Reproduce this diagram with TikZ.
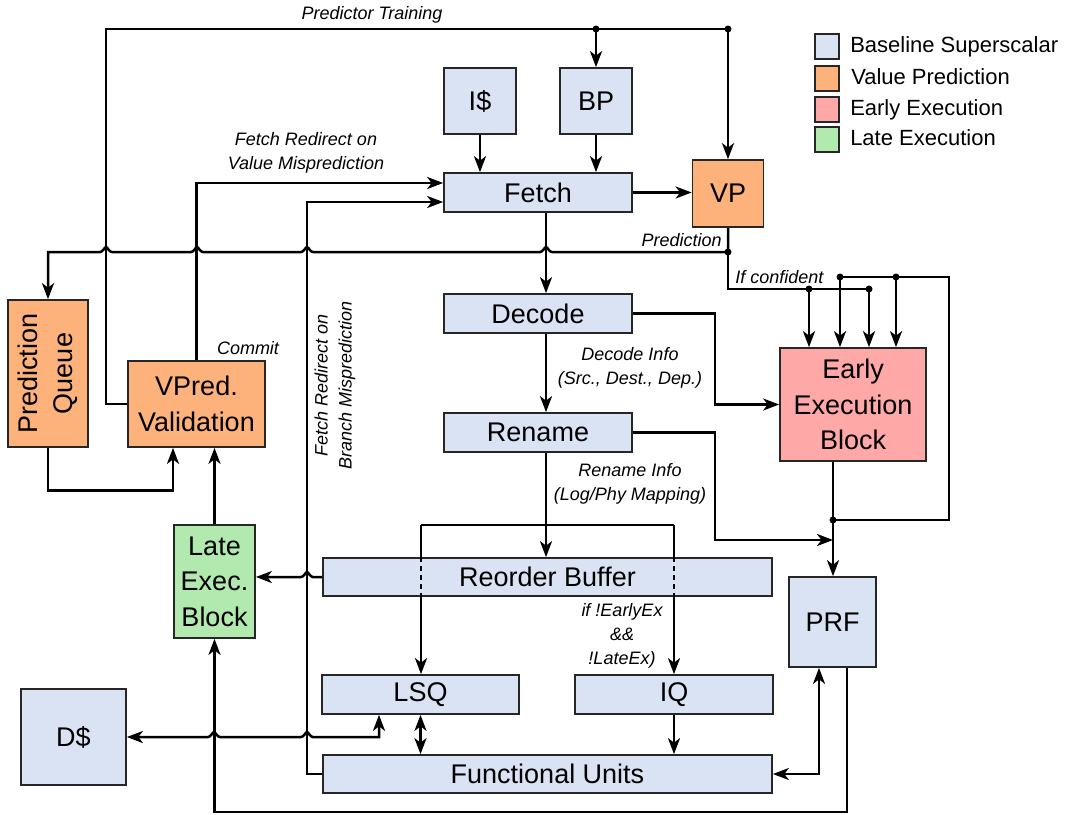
\documentclass[tikz,border=0pt]{standalone}
\usepackage{fontspec}
\setmainfont{Liberation Sans}
\usepackage{tikz}
\usetikzlibrary{arrows.meta,positioning}
\tikzset{>/.tip={Stealth[length=16pt,width=12pt,inset=4.5pt]}}
\definecolor{baseblue}{RGB}{218,227,243}
\definecolor{vporange}{RGB}{252,178,122}
\definecolor{eepink}{RGB}{254,168,168}
\definecolor{legreen}{RGB}{178,233,174}
\def\boxfont{\fontsize{27}{35.5}\selectfont}
\def\lblfont{\fontsize{18}{24}\selectfont\itshape}
\def\legfont{\fontsize{22}{25}\selectfont}
% little bridge where a line crosses another one
\def\hop#1#2{-- (#1-6,#2) .. controls (#1-3,#2) and (#1-1.5,#2-5) .. (#1,#2-5) .. controls (#1+1.5,#2-5) and (#1+3,#2) .. (#1+6,#2)}

\begin{document}
\begin{tikzpicture}[x=1pt,y=-1pt,on grid,line width=2.5pt,
  blk/.style={draw=black!85,line width=1.7pt,font=\boxfont,align=center,inner sep=0pt},
  basebox/.style={blk,fill=baseblue},
  vpbox/.style={blk,fill=vporange},
  eebox/.style={blk,fill=eepink},
  lebox/.style={blk,fill=legreen},
  bar/.style={minimum width=188pt,minimum height=39pt},
  sq/.style={minimum width=72pt,minimum height=66pt},
  lbl/.style={font=\lblfont,align=center,inner sep=0pt},
  legsq/.style={minimum width=24pt,minimum height=25pt},
  legtxt/.style={font=\legfont,anchor=west,inner sep=0pt,text height=15.5pt,text depth=0pt}]
  \useasboundingbox (0,0) rectangle (1067,814);

  % blocks
  \node[basebox,sq](icache) at (480,101) {I\$};
  \node[basebox,sq](bp)[right=116pt of icache]{BP};
  \node[basebox,bar](fetch) at (538,192.5) {Fetch};
  \node[basebox,bar](decode)[below=121pt of fetch]{Decode};
  \node[basebox,bar](rename)[below=119pt of decode]{Rename};
  \node[vpbox,minimum width=71pt,minimum height=67pt](vp) at (728,193.5) {VP};
  \node[eebox,minimum width=146pt,minimum height=113pt](eeb) at (853,404.5) {Early\\Execution\\Block};
  \node[vpbox,minimum width=80pt,minimum height=147pt](pq) at (48,373.5) {};
  \node[rotate=90,font=\boxfont,align=center](pqtxt) at (pq) {Prediction\\Queue};
  \node[vpbox,minimum width=137pt,minimum height=86pt](vpv) at (196.5,404) {VPred.\\Validation};
  \node[lebox,minimum width=81pt,minimum height=113pt](late) at (214.5,581.5) {Late\\Exec.\\Block};
  \node[basebox,minimum width=449pt,minimum height=38pt](rob) at (547.5,577) {Reorder Buffer};
  \node[basebox,minimum width=87pt,minimum height=90pt](prf) at (832.5,622) {PRF};
  \node[basebox,minimum width=105pt,minimum height=96pt](dc) at (73.5,737) {D\$};
  \node[basebox,minimum width=197pt,minimum height=39pt](lsq) at (420.5,694.5) {LSQ};
  \node[basebox,minimum width=198pt,minimum height=39pt](iq)[right=253.5pt of lsq]{IQ};
  \node[basebox,minimum width=449pt,minimum height=38pt](fu) at (547.5,774) {Functional Units};

  % junctions
  \coordinate (pt) at (728,29);
  \coordinate (pb) at (596,29);
  \coordinate (pdot) at (728,252);
  \coordinate (c1) at (809,289);
  \coordinate (c4) at (869,289);
  \coordinate (c2) at (840,277);
  \coordinate (c3) at (896,277);
  \coordinate (edot) at (833,520);
  \coordinate (rin) at (833,540);
  \coordinate (tl) at (421,525);
  \coordinate (tr) at (674,525);

  % front end
  \draw[->] (icache) -- (icache |- fetch.north);
  \draw[->] (bp) -- (bp |- fetch.north);
  \draw[->] (fetch.east) -- (vp.west |- fetch.east);
  \draw[->] ([xshift=8pt]fetch.south) -- ([xshift=8pt]decode.north);
  \draw[->] ([xshift=8pt]decode.south) -- ([xshift=8pt]rename.north);
  \draw[->] ([xshift=8pt]rename.south) -- ([xshift=8pt]rename.south |- rob.north);
  \draw[->] (decode.east) -| (715,360) |- (eeb.west);
  \draw[->] (rename.east) -| (715,500) |- (rin);

  % value prediction
  \draw[->] (vpv.west) -| (106,29) -- (pt) -- (vp.north);
  \draw[->] (pb) -- (bp);
  \draw[->] (vpv.north) |- ([yshift=9.5pt]fetch.west);
  \draw[->] (fu.west) -| (307,202) -- ([yshift=-9.5pt]fetch.west);
  \draw[<-] (pq.north) -- (pq.north |- pdot) \hop{106}{252} \hop{197}{252} \hop{307}{252} \hop{546}{252} -- (pdot) -- (vp.south);
  \draw[->] (pq.south) -- ++(0,42.5) -| ([xshift=-23.5pt]vpv.south);
  \draw[->] (late.north) -- (late.north |- vpv.south);

  % early execution
  \draw (pdot) |- (c4);
  \draw[->] (c1) -- (c1 |- eeb.north);
  \draw[->] (c4) -- (c4 |- eeb.north);
  \draw[->] (c2) -- (c2 |- eeb.north);
  \draw[->] (c3) -- (c3 |- eeb.north);
  \draw (edot) -| (949,277) -- (c2);
  \draw[->] (eeb.south -| edot) -- (prf.north -| edot);

  % back end
  \draw (tl) -- (tr);
  \draw (tl) -- (tl |- rob.north);
  \draw[dash pattern=on 5pt off 4pt] (tl |- rob.north) -- (tl |- rob.south);
  \draw[->] (tl |- rob.south) -- (tl |- lsq.north);
  \draw (tr) -- (tr |- rob.north);
  \draw[dash pattern=on 5pt off 4pt] (tr |- rob.north) -- (tr |- rob.south);
  \draw[->] (tr |- rob.south) -- (tr |- iq.north);
  \draw[<-] (late.east |- rob.west) \hop{307}{577} -- (rob.west);
  \draw[<->] (dc.east) \hop{214}{737} \hop{307}{737} -| ([xshift=-41.5pt]lsq.south);
  \draw[<->] (lsq.south) -- (lsq.south |- fu.north);
  \draw[->] (iq.south) -- (iq.south |- fu.north);
  \draw[<->] (fu.east) -| ([xshift=-13.5pt]prf.south);
  \draw[->] ([xshift=14.5pt]prf.south) -- ++(0,144) -| (late.south);

  \foreach \p in {pt,pb,pdot,c1,c2,c3,c4,edot} \fill (\p) circle (3.5pt);

  % labels
  \node[lbl](trainlbl) at (372,15) {Predictor Training};
  \node[lbl](vmislbl) at (306,153) {Fetch Redirect on\\Value Misprediction};
  \node[lbl,rotate=90](bmislbl) at (335,385) {Fetch Redirect on\\Branch Misprediction};
  \node[lbl,anchor=east](predlbl) at (723,240) {Prediction};
  \node[lbl,anchor=west](conflbl) at (734,277) {If confident};
  \node[lbl](commitlbl) at (248,348) {Commit};
  \node[lbl](declbl) at (630,368) {Decode Info\\(Src., Dest., Dep.)};
  \node[lbl](renlbl) at (630,484) {Rename Info\\(Log/Phy Mapping)};
  \node[lbl](bypasslbl) at (622,636) {if !EarlyEx\\\&\&\\!LateEx)};

  % legend
  \node[basebox,legsq](lgbase) at (827,46.5) {};
  \node[vpbox,legsq](lgvp) at (827,78.5) {};
  \node[eebox,legsq](lgee) at (827,109.5) {};
  \node[lebox,legsq](lgle) at (827,139.5) {};
  \node[legtxt](ltbase) at (849,45) {Baseline Superscalar};
  \node[legtxt](ltvp) at (850,77) {Value Prediction};
  \node[legtxt](ltee) at (849,108) {Early Execution};
  \node[legtxt](ltle) at (849,138) {Late Execution};
\end{tikzpicture}
\end{document}
